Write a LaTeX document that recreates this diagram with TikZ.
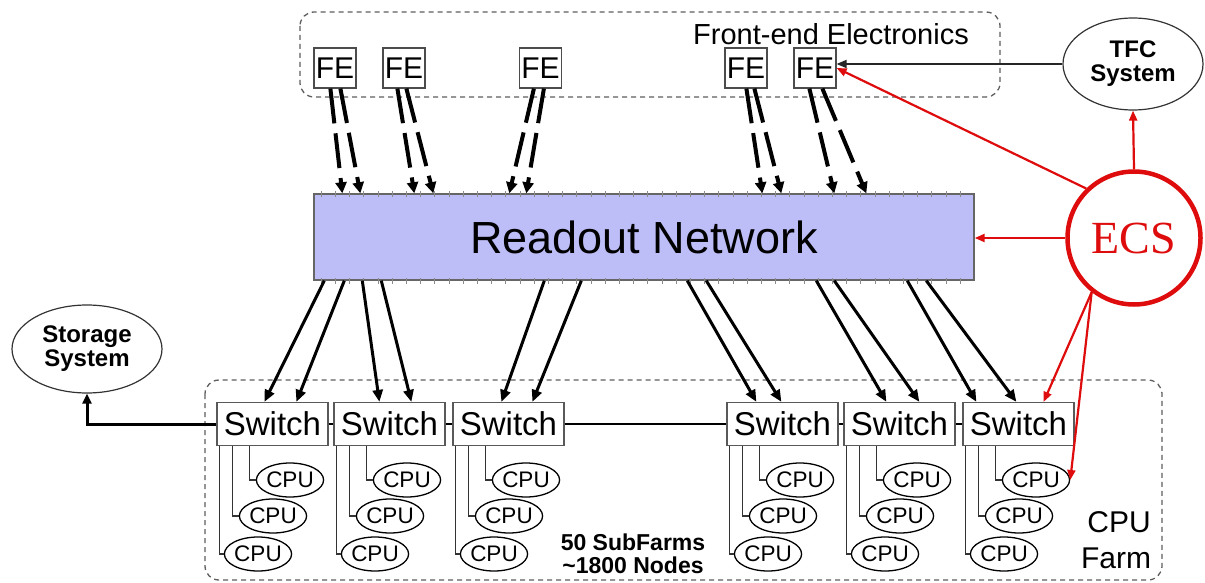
\documentclass[tikz,border=0pt]{standalone}
\usepackage{fontspec}
\setmainfont{Liberation Sans}
\newfontfamily\serifecs{Liberation Serif}
\usetikzlibrary{arrows.meta,shapes.geometric,calc}
\definecolor{rofill}{RGB}{189,189,247}
\definecolor{ecsred}{RGB}{222,12,12}
\definecolor{dashgray}{RGB}{95,95,95}
\begin{document}
\begin{tikzpicture}[x=1pt,y=-1pt,
  fe/.style={draw=black!70, line width=1.2pt, fill=white, minimum width=42pt, minimum height=40pt, inner sep=0pt, font=\fontsize{30}{30}\selectfont},
  sw/.style={draw=black!65, line width=1.2pt, fill=white, minimum width=111pt, minimum height=43pt, inner sep=0pt, font=\fontsize{33}{33}\selectfont},
  cpu/.style={ellipse, draw=black, line width=1.3pt, fill=white, minimum width=60pt, minimum height=34pt, inner sep=0pt, font=\fontsize{22.5}{22.5}\selectfont},
  cpuline/.style={line width=1.1pt, black!80},
  feline/.style={line width=4pt, dash pattern=on 35pt off 10pt, -{Triangle[length=11pt,width=11pt]}},
  roline/.style={line width=3pt, -{Triangle[length=12pt,width=10pt]}},
  ecsline/.style={ecsred, line width=2.2pt, -{Triangle[length=10pt,width=8pt]}},
  group/.style={draw=dashgray, line width=1.3pt, dash pattern=on 5pt off 4pt, rounded corners=14pt},
  sysell/.style={ellipse, draw=black!80, line width=1.2pt, inner sep=0pt, align=center, font=\bfseries\fontsize{24}{24}\selectfont},
  txt/.style={inner sep=0pt}
]
\useasboundingbox (0,0) rectangle (1205,583);
\fill[white] (0,0) rectangle (1205,583);

% groups
\draw[group] (300,12) rectangle (1000,97);
\draw[group] (205,380) rectangle (1162,580);

% readout network
\node[draw=black!60, line width=1.4pt, fill=rofill, minimum width=660pt, minimum height=86pt, inner sep=0pt, font=\fontsize{45}{45}\selectfont] (ro) at (644,237) {Readout Network};
\foreach \t in {0,...,45} {
  \draw[black!45, line width=0.6pt] (321+14.2*\t,191) -- ++(0,6);
  \draw[black!45, line width=0.6pt] (321+14.2*\t,278) -- ++(0,6);
}

% front-end
\node[txt, anchor=base west, font=\fontsize{29}{29}\selectfont] (fetitle) at (693,45) {Front-end Electronics};
\node[fe] (fe1) at (335,68) {FE};
\node[fe] (fe2) at (404,68) {FE};
\node[fe] (fe3) at (540.5,68) {FE};
\node[fe] (fe4) at (746,68) {FE};
\node[fe] (fe5) at (815,68) {FE};

% systems
\node[sysell, minimum width=140pt, minimum height=92pt] (tfc) at (1133,64) {TFC\\System};
\node[sysell, minimum width=150pt, minimum height=88pt] (st) at (87,349) {Storage\\System};
\node[circle, draw=ecsred, line width=4.5pt, minimum size=133pt, inner sep=0pt, text=ecsred, font=\serifecs\fontsize{46}{46}\selectfont] (ecs) at (1134,238) {ECS};

% switches
\node[sw] (s1) at (272.5,424) {Switch};
\node[sw] (s2) at (389.5,424) {Switch};
\node[sw] (s3) at (508.5,424) {Switch};
\node[sw] (s4) at (782.5,424) {Switch};
\node[sw] (s5) at (899.5,424) {Switch};
\node[sw] (s6) at (1018.5,424) {Switch};

\foreach \s/\L in {s1/217, s2/334, s3/453, s4/727, s5/844, s6/963} {
  \node[cpu] (\s-a) at (\L+73,480) {CPU};
  \node[cpu] (\s-b) at (\L+56,516) {CPU};
  \node[cpu] (\s-c) at (\L+41,554) {CPU};
  \draw[cpuline] ([xshift=33pt]\s.south west) |- (\s-a.west);
  \draw[cpuline] ([xshift=16pt]\s.south west) |- (\s-b.west);
  \draw[cpuline] ([xshift=3pt]\s.south west) |- (\s-c.west);
}

% switch chain and storage
\draw[line width=2.5pt] (s1.east) -- (s2.west);
\draw[line width=2.5pt] (s2.east) -- (s3.west);
\draw[line width=2.5pt] (s3.east) -- (s4.west);
\draw[line width=2.5pt] (s4.east) -- (s5.west);
\draw[line width=2.5pt] (s5.east) -- (s6.west);
\draw[line width=3pt, -{Triangle[length=10pt,width=9pt]}] (s1.west) -| (st.south);

% bottom texts
\node[txt, anchor=base, font=\bfseries\fontsize{23}{23}\selectfont] (sf1) at (633,550) {50 SubFarms};
\node[txt, anchor=base, font=\bfseries\fontsize{23}{23}\selectfont] (sf2) at (633,573) {\textasciitilde1800 Nodes};
\node[txt, anchor=base, font=\fontsize{30}{30}\selectfont] (cf1) at (1119,532) {CPU};
\node[txt, anchor=base, font=\fontsize{30}{30}\selectfont] (cf2) at (1116,568) {Farm};

% FE -> readout
\draw[feline] ([xshift=17pt]fe1.south west) -- ([xshift=29pt]ro.north west);
\draw[feline] ([xshift=27pt]fe1.south west) -- ([xshift=47pt]ro.north west);
\draw[feline] ([xshift=15pt]fe2.south west) -- ([xshift=101pt]ro.north west);
\draw[feline] ([xshift=24pt]fe2.south west) -- ([xshift=120pt]ro.north west);
\draw[feline] ([xshift=15pt]fe3.south west) -- ([xshift=196pt]ro.north west);
\draw[feline] ([xshift=25pt]fe3.south west) -- ([xshift=213pt]ro.north west);
\draw[feline] ([xshift=22pt]fe4.south west) -- ([xshift=449pt]ro.north west);
\draw[feline] ([xshift=30pt]fe4.south west) -- ([xshift=468pt]ro.north west);
\draw[feline] ([xshift=16pt]fe5.south west) -- ([xshift=521pt]ro.north west);
\draw[feline] ([xshift=29pt]fe5.south west) -- ([xshift=553pt]ro.north west);

% readout -> switches
\draw[roline] ([xshift=11pt]ro.south west) -- ([xshift=48pt]s1.north west);
\draw[roline] ([xshift=31pt]ro.south west) -- ([xshift=80pt]s1.north west);
\draw[roline] ([xshift=49pt]ro.south west) -- ([xshift=46pt]s2.north west);
\draw[roline] ([xshift=68pt]ro.south west) -- ([xshift=78pt]s2.north west);
\draw[roline] ([xshift=231pt]ro.south west) -- ([xshift=49pt]s3.north west);
\draw[roline] ([xshift=268pt]ro.south west) -- ([xshift=80pt]s3.north west);
\draw[roline] ([xshift=374pt]ro.south west) -- ([xshift=30pt]s4.north west);
\draw[roline] ([xshift=393pt]ro.south west) -- ([xshift=55pt]s4.north west);
\draw[roline] ([xshift=503pt]ro.south west) -- ([xshift=43pt]s5.north west);
\draw[roline] ([xshift=521pt]ro.south west) -- ([xshift=76pt]s5.north west);
\draw[roline] ([xshift=594pt]ro.south west) -- ([xshift=14pt]s6.north west);
\draw[roline] ([xshift=613pt]ro.south west) -- ([xshift=54pt]s6.north west);

% TFC -> FE
\draw[line width=1.7pt, black!85, -{Triangle[length=10pt,width=8pt]}] (tfc.west) -- (tfc.west -| fe5.east);

% ECS control
\draw[ecsline] (ecs.north) -- (tfc.south);
\draw[ecsline] (ecs.134) -- (fe5.east);
\draw[ecsline] (ecs.west) -- (ecs.west -| ro.east);
\draw[ecsline] (ecs.232) -- ([xshift=-31pt]s6.north east);
\draw[ecsline] (ecs.232) -- (s6-a.east);
\end{tikzpicture}
\end{document}
